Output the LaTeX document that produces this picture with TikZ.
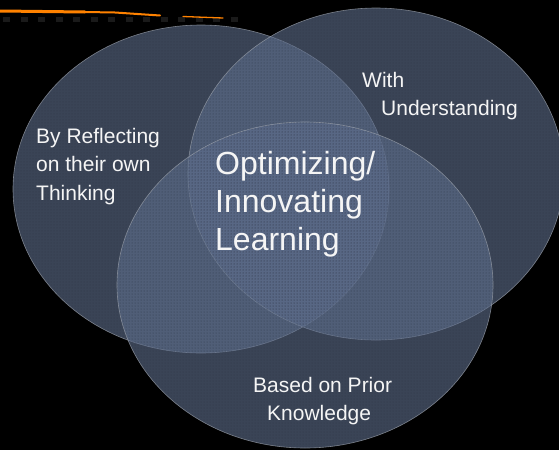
\documentclass[tikz,border=0pt]{standalone}
\usepackage{fontspec}
\setmainfont{Liberation Sans}
\usetikzlibrary{patterns}
\begin{document}
\begin{tikzpicture}[x=1pt,y=-1pt]
\definecolor{venn}{RGB}{94,110,140}
\definecolor{rim}{RGB}{160,166,176}
\definecolor{txt}{RGB}{245,245,245}
\definecolor{streak}{RGB}{255,130,0}
\definecolor{tile}{RGB}{26,26,26}
\tikzset{
  vennset/.style={fill=venn, fill opacity=0.62, draw=rim, draw opacity=0.7, line width=0.6pt},
  venntex/.style={pattern=dots, pattern color=black, fill opacity=0.18},
  smalllbl/.style={text=txt, font=\fontsize{21}{28.5}\selectfont, anchor=base west, inner sep=0pt, align=left},
  biglbl/.style={text=txt, font=\fontsize{32}{38}\selectfont, anchor=base west, inner sep=0pt, align=left}
}
\useasboundingbox (0,0) rectangle (559,450);
\fill[black] (0,0) rectangle (559,450);
% top-left strip
\draw[tile, line width=5pt, dash pattern=on 7pt off 10.5pt] (3,19.5) -- (240,19.5);
\draw[streak, line width=3pt, line cap=round] (0,11) -- (85,12);
\draw[streak, line width=2pt, line cap=round] (85,12) -- (115,12.5) -- (160,15.5);
\draw[streak, line width=1.3pt, line cap=round] (183,16.5) -- (223,18);
% ellipses
\path[vennset] (201,189) ellipse [x radius=188pt, y radius=164pt];
\path[vennset] (376,174) ellipse [x radius=188pt, y radius=166pt];
\path[vennset] (305,285) ellipse [x radius=188pt, y radius=163pt];
% texture
\path[venntex] (201,189) ellipse [x radius=188pt, y radius=164pt];
\path[venntex] (376,174) ellipse [x radius=188pt, y radius=166pt];
\path[venntex] (305,285) ellipse [x radius=188pt, y radius=163pt];
% labels (base anchor of a multi-line node = baseline of its last line)
\node[smalllbl] (reflect) at (36,200) {By Reflecting\\on their own\\Thinking};
\node[smalllbl] (with) at (362,87) {With};
\node[smalllbl] (underst) at (381,115) {Understanding};
\node[smalllbl] (based) at (253,392) {Based on Prior};
\node[smalllbl] (knowl) at (267,420) {Knowledge};
\node[biglbl] (center) at (215,250) {Optimizing/\\Innovating\\Learning};
\end{tikzpicture}
\end{document}
